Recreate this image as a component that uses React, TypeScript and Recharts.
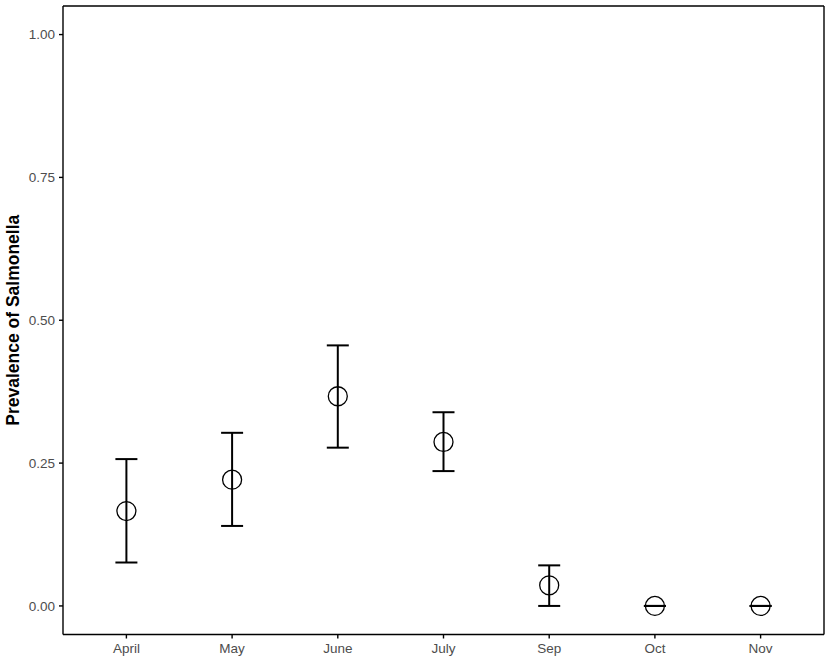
import React from "react";
import { ComposedChart, Line, XAxis, YAxis, ErrorBar, CartesianGrid } from "recharts";

const months = ["April", "May", "June", "July", "Sep", "Oct", "Nov"];
const prevalence = [0.166, 0.221, 0.367, 0.287, 0.036, 0, 0];
const lower = [0.076, 0.14, 0.277, 0.236, 0, 0, 0];
const upper = [0.257, 0.303, 0.456, 0.339, 0.071, 0, 0];
const yTicks = [0, 0.25, 0.5, 0.75, 1];

const data = months.map((m, i) => ({
  month: m,
  value: prevalence[i],
  err: [prevalence[i] - lower[i], upper[i] - prevalence[i]],
}));

const font = "'Liberation Sans', Arial, sans-serif";
const tickStyle = { fill: "#4d4d4d", fontSize: 13.5, fontFamily: font };

// panel border: top and right edges of the plot area
const topEdge = ({ offset }: any) => [offset.top];
const rightEdge = ({ offset }: any) => [offset.left + offset.width];

const App: React.FC = () => {
  return (
    <div style={{ position: "absolute", left: 0, top: 0, background: "#fff" }}>
      <ComposedChart
        width={829}
        height={663}
        data={data}
        margin={{ top: 6, right: 5, bottom: 0, left: 0 }}
      >
        <CartesianGrid
          stroke="#000"
          strokeWidth={1.4}
          horizontalCoordinatesGenerator={topEdge}
          verticalCoordinatesGenerator={rightEdge}
        />
        <XAxis
          dataKey="month"
          type="category"
          height={28.5}
          padding={{ left: 63.4, right: 63.4 }}
          axisLine={{ stroke: "#000", strokeWidth: 1.4 }}
          tickLine={{ stroke: "#000", strokeWidth: 1.4 }}
          tickSize={4}
          tickMargin={5}
          tick={tickStyle}
        />
        <YAxis
          type="number"
          domain={[-0.05, 1.05]}
          ticks={yTicks}
          tickFormatter={(v: number) => v.toFixed(2)}
          width={63}
          axisLine={{ stroke: "#000", strokeWidth: 1.4 }}
          tickLine={{ stroke: "#000", strokeWidth: 1.4 }}
          tickSize={4}
          tickMargin={4}
          tick={tickStyle}
          label={{
            value: "Prevalence of Salmonella",
            angle: -90,
            position: "insideLeft",
            offset: 13,
            style: {
              textAnchor: "middle",
              fill: "#000",
              fontSize: 17.5,
              fontWeight: "bold",
              fontFamily: font,
            },
          }}
        />
        <Line
          dataKey="value"
          stroke="none"
          isAnimationActive={false}
          activeDot={false}
          dot={{ r: 9.5, stroke: "#000", strokeWidth: 1.3, fill: "none" }}
        >
          <ErrorBar
            dataKey="err"
            direction="y"
            width={11}
            stroke="#000"
            strokeWidth={2}
            isAnimationActive={false}
          />
        </Line>
      </ComposedChart>
    </div>
  );
};

export default App;
